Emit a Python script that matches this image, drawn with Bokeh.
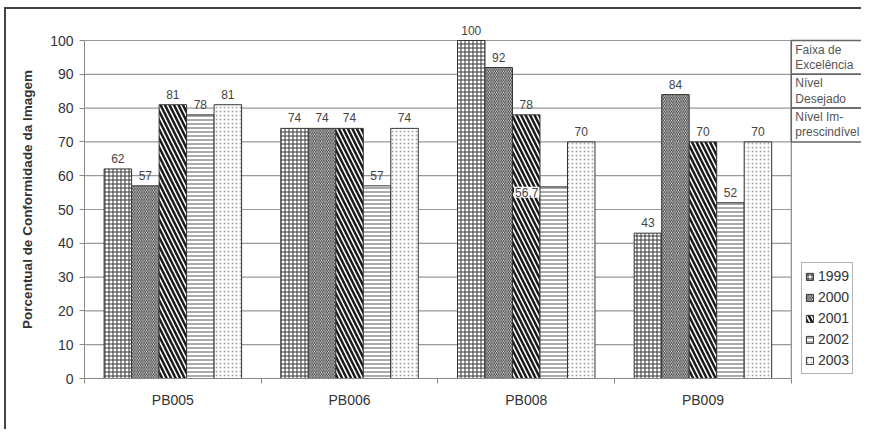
from bokeh.plotting import figure
from bokeh.models import Range1d, FixedTicker, Legend, LegendItem, Label, ColumnDataSource
from bokeh.core.properties import value
from bokeh.embed import file_html
from bokeh.resources import INLINE

categories = ["PB005", "PB006", "PB008", "PB009"]
years = ["1999", "2000", "2001", "2002", "2003"]
v1999 = [62, 74, 100, 43]
v2000 = [57, 74, 92, 84]
v2001 = [81, 74, 78, 70]
v2002 = [78, 57, 56.7, 52]
v2003 = [81, 74, 70, 70]
series = [v1999, v2000, v2001, v2002, v2003]
y_ticks = list(range(0, 101, 10))
band_low = [90, 80, 70]
band_high = [100, 90, 80]
band_text = ["Faixa de\nExcelência", "Nível\nDesejado", "Nível Im-\nprescindível"]
y_label = "Porcentual de Conformidade da Imagem"
x_label = "Código do Serviço de Mamografia"

FONT = "Liberation Sans"
n = len(categories)
extra = 0.403
bw = 0.1556
# label placement nudges (screen px) for labels moved off the bar top
nudges = {("PB008", "2002"): (-27, 17)}

hatches = [
    dict(hatch_pattern="cross", hatch_scale=4, hatch_weight=1, hatch_color="#333333"),
    dict(hatch_pattern="left_diagonal_line", hatch_scale=3.5, hatch_weight=1, hatch_color="#333333"),
    dict(hatch_pattern="left_diagonal_line", hatch_scale=9, hatch_weight=2.5, hatch_color="#1a1a1a"),
    dict(hatch_pattern="horizontal_line", hatch_scale=4, hatch_weight=1, hatch_color="#555555"),
    dict(hatch_pattern="dot", hatch_scale=4, hatch_weight=1, hatch_color="#aaaaaa"),
]

p = figure(width=857, height=422, output_backend="svg", toolbar_location=None,
           x_range=Range1d(0, n + extra), y_range=Range1d(0, 105.92),
           min_border_left=78, min_border_right=1, min_border_top=11, min_border_bottom=53)
p.styles = {"border-left": "2px solid #444444", "border-top": "2px solid #444444",
            "margin-left": "4px", "margin-top": "7px"}
p.outline_line_color = None
p.xgrid.visible = False
p.ygrid.visible = False

# gridlines inside plot area
p.segment(x0=[0] * len(y_ticks), x1=[n] * len(y_ticks), y0=y_ticks, y1=y_ticks,
          line_color="#999999", line_width=1.2)
# plot area right border
p.segment(x0=[n], x1=[n], y0=[0], y1=[100], line_color="#888888", line_width=1.2)

# bands to the right
p.quad(left=[n] * 3, right=[n + extra] * 3, bottom=band_low, top=band_high,
       fill_color=None, line_color="#666666", line_width=1.5)
p.text(x=[n] * 3, y=band_high, text=band_text, x_offset=4, y_offset=2,
       text_baseline="top", text_align="left", text_font=value(FONT),
       text_font_size="12px", text_color="#555555", text_line_height=1.1)

items = []
for j, (yr, vals) in enumerate(zip(years, series)):
    xs = [i + 0.5 + (j - 2) * bw for i in range(n)]
    labels = [(f"{v:.1f}".replace(".", ",") if v != int(v) else str(int(v))) for v in vals]
    src = ColumnDataSource(dict(x=xs, top=vals))
    r = p.vbar(x="x", top="top", width=bw, bottom=0, source=src,
               fill_color="white", line_color="#333333", line_width=1, **hatches[j])
    items.append(LegendItem(label=yr, renderers=[r]))
    for i in range(n):
        dx, dy = nudges.get((categories[i], yr), (0, 0))
        extra_kw = {}
        if (dx, dy) != (0, 0):
            extra_kw = dict(background_fill_color="white", padding=1)
        p.text(x=[xs[i]], y=[vals[i]], text=[labels[i]], x_offset=dx, y_offset=-6 + dy,
               text_align="center", text_baseline="bottom", text_font=value(FONT),
               text_font_size="12px", text_color="#444444", **extra_kw)

legend = Legend(items=items, location=(717, 4), label_text_font=FONT,
                label_text_font_size="14px", label_text_color="#333333",
                glyph_width=9, glyph_height=9, label_standoff=4, spacing=1,
                label_height=20, padding=3, margin=0,
                border_line_color="#666666", border_line_width=1.2,
                background_fill_alpha=1)
p.add_layout(legend, "center")

# y axis
ya = p.yaxis[0]
ya.bounds = (0, 100)
ya.ticker = FixedTicker(ticks=y_ticks)
ya.axis_label = y_label
ya.axis_label_text_font = FONT
ya.axis_label_text_font_style = "bold"
ya.axis_label_text_font_size = "13.5px"
ya.axis_label_text_color = "#333333"
ya.axis_label_standoff = 12
ya.major_label_text_font = FONT
ya.major_label_text_font_size = "14px"
ya.major_label_text_color = "#333333"
ya.major_label_standoff = 6
ya.major_tick_in = 0
ya.major_tick_out = 5
ya.minor_tick_line_color = None
ya.axis_line_color = "#888888"
ya.major_tick_line_color = "#888888"

# x axis
xa = p.xaxis[0]
xa.bounds = (0, n)
centers = [i + 0.5 for i in range(n)]
xa.ticker = FixedTicker(ticks=centers, minor_ticks=list(range(n + 1)))
xa.major_label_overrides = {c: lab for c, lab in zip(centers, categories)}
xa.major_tick_line_color = None
xa.minor_tick_in = 0
xa.minor_tick_out = 5
xa.minor_tick_line_color = "#888888"
xa.axis_line_color = "#888888"
xa.major_label_text_font = FONT
xa.major_label_text_font_size = "14px"
xa.major_label_text_color = "#333333"
xa.major_label_standoff = 7

p.add_layout(Label(x=n / 2, y=-12.4, text=x_label, text_align="center",
                   text_baseline="middle", text_font=FONT, text_font_style="bold",
                   text_font_size="13.5px", text_color="#333333"))

open("out.html", "w").write(file_html(p, INLINE))
